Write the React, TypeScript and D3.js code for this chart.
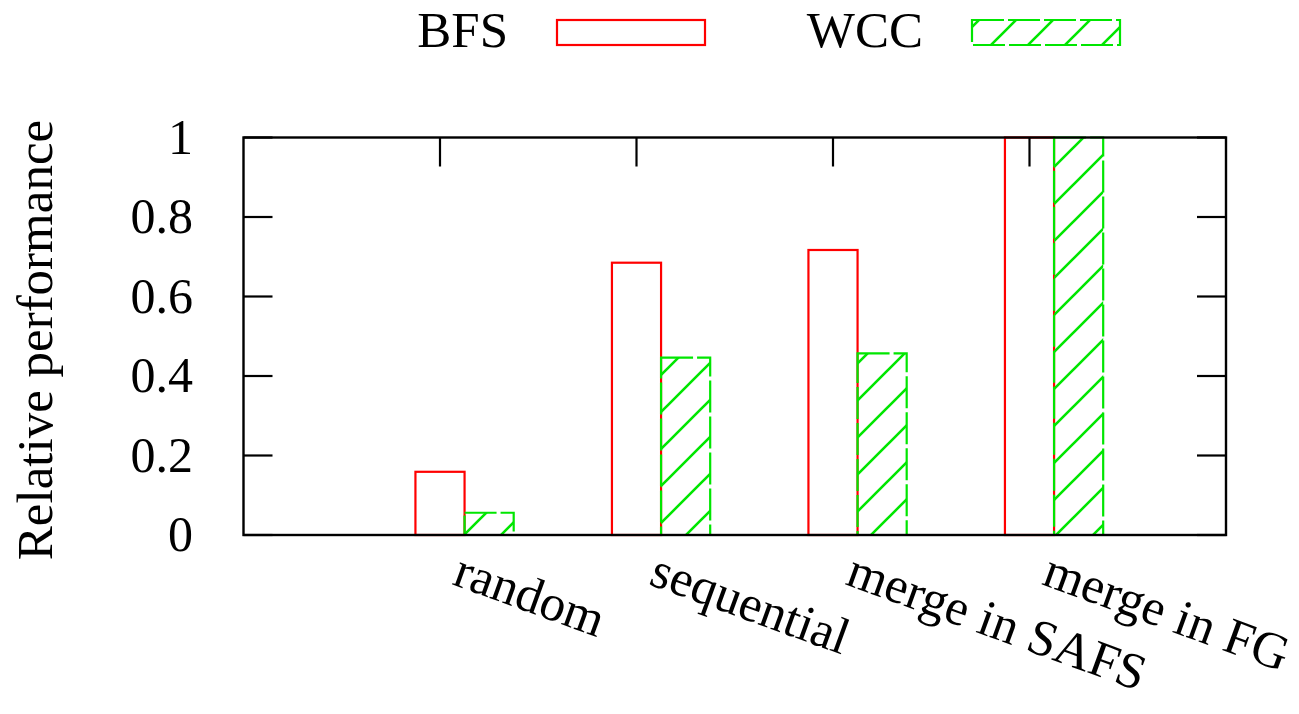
import React from "react";
import * as d3 from "d3";

const categories = ["random", "sequential", "merge in SAFS", "merge in FG"];
const seriesNames = ["BFS", "WCC"];
const bfsValues = [0.159, 0.685, 0.717, 1.0];
const wccValues = [0.056, 0.446, 0.457, 1.0];
const yTicks = [0, 0.2, 0.4, 0.6, 0.8, 1];
const yTickLabels = ["0", "0.2", "0.4", "0.6", "0.8", "1"];

const W = 1299;
const H = 714;
const FONT = "Liberation Serif, DejaVu Serif, serif";

export default function App() {
  const x = d3.scaleLinear().domain([-1, 4]).range([243.5, 1226]);
  const y = d3.scaleLinear().domain([0, 1]).range([535, 137.5]);
  const barW = 0.25;
  const series = [bfsValues, wccValues];
  const x0 = x(-1), x1 = x(4), y0 = y(0), y1 = y(1);
  const tickLen = 29;
  const ts = { fontFamily: FONT };

  return (
    <svg
      width={W}
      height={H}
      style={{ position: "absolute", left: 0, top: 0, background: "#fff", fontFamily: FONT }}
    >
      <defs>
        <pattern id="hatch" patternUnits="userSpaceOnUse" width={37} height={37}>
          <path d="M-5,5 L5,-5 M0,37 L37,0 M32,42 L42,32" stroke="#00e600" strokeWidth={2.6} />
        </pattern>
      </defs>
      <rect x={0} y={0} width={W} height={H} fill="#fff" />

      {categories.map((c, i) => (
        <g key={c}>
          {series.map((vals, s) => {
            const left = x(i - barW / 2 + s * barW);
            const right = x(i + barW / 2 + s * barW);
            const top = y(vals[i]);
            return s === 0 ? (
              <rect key={s} x={left} y={top} width={right - left} height={y0 - top}
                fill="#fff" stroke="#ff0000" strokeWidth={2.2} />
            ) : (
              <rect key={s} x={left} y={top} width={right - left} height={y0 - top}
                fill="url(#hatch)" stroke="#00e600" strokeWidth={2.2} strokeDasharray="32 4" />
            );
          })}
        </g>
      ))}

      <rect x={x0} y={y1} width={x1 - x0} height={y0 - y1} fill="none" stroke="#000" strokeWidth={2.4} />

      {yTicks.map((t, i) => (
        <g key={t}>
          <line x1={x0} x2={x0 + tickLen} y1={y(t)} y2={y(t)} stroke="#000" strokeWidth={2.2} />
          <line x1={x1} x2={x1 - tickLen} y1={y(t)} y2={y(t)} stroke="#000" strokeWidth={2.2} />
          <text x={193} y={y(t) + 16} textAnchor="end" fontSize={50} fill="#000" style={ts}>
            {yTickLabels[i]}
          </text>
        </g>
      ))}

      {categories.map((c, i) => (
        <g key={c}>
          <line x1={x(i)} x2={x(i)} y1={y1} y2={y1 + tickLen} stroke="#000" strokeWidth={2.2} />
          <text transform={`translate(${x(i) + 11},584) rotate(20)`} fontSize={51} fill="#000" style={ts}>
            {c}
          </text>
        </g>
      ))}

      <text transform="translate(52,340) rotate(-90)" textAnchor="middle" fontSize={51} fill="#000" style={ts}>
        Relative performance
      </text>

      <text x={508} y={47} textAnchor="end" fontSize={51} fill="#000" style={ts}>{seriesNames[0]}</text>
      <rect x={557} y={20} width={148} height={25} fill="#fff" stroke="#ff0000" strokeWidth={2.2} />
      <text x={923} y={47} textAnchor="end" fontSize={51} fill="#000" style={ts}>{seriesNames[1]}</text>
      <rect x={972} y={20} width={148} height={25} fill="url(#hatch)" stroke="#00e600" strokeWidth={2.2} strokeDasharray="32 4" />
    </svg>
  );
}
